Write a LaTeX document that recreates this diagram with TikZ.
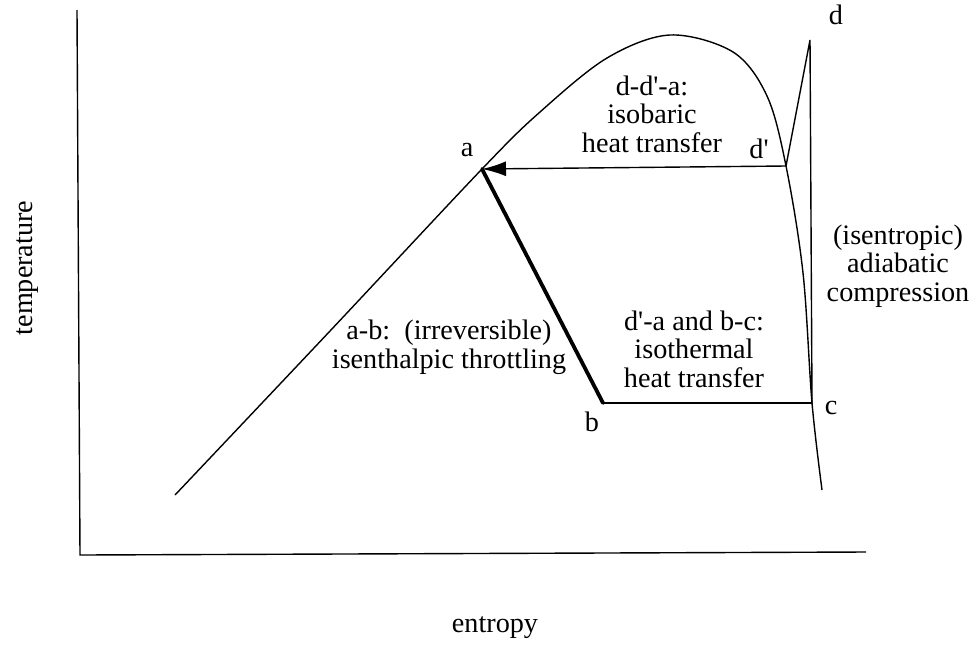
\documentclass[tikz,border=0pt]{standalone}
\usepackage{fontspec}
\setmainfont{Liberation Serif}
\usetikzlibrary{arrows.meta,positioning}

\begin{document}
\begin{tikzpicture}[
x=0.5pt, y=-0.5pt,
every node/.style={font=\fontsize{14.1}{14.3}\selectfont},
curve/.style={line width=0.7pt, black},
note/.style={align=center, inner sep=0pt},
pointlabel/.style={inner sep=0pt},
arrow/.style={-{Latex[length=12pt,width=7.5pt]}, line width=0.7pt},
throttle/.style={line width=1.9pt, line cap=round}
]
\useasboundingbox (0,0) rectangle (972,648);

% axes
\coordinate (origin) at (80,555);
\coordinate (ytop) at (77,10);
\coordinate (xend) at (866,552);
\draw [curve] (ytop) -- (origin) -- (xend);
\node (ylabel) [rotate=90] at (28,268) {temperature};
\node (xlabel) at (495,628) {entropy};

% state points
\coordinate (a) at (482,169);
\coordinate (b) at (603,403);
\coordinate (c) at (812,403);
\coordinate (dp) at (786,166);
\coordinate (d) at (810,40);

% saturation dome
\draw [curve] plot [smooth, tension=0.55] coordinates {
(175,495) (330,331) (a) (540,112) (607,58) (670,35) (733,52) (767,96)
(dp) (803,273) (c) (822,490)};

% cycle
\draw [arrow] (dp) -- (a);
\draw [throttle] (a) -- (b);
\draw [curve] (b) -- (c);
\draw [curve] (c) -- (d) -- (dp);

% point labels
\node (la) [pointlabel] at (467,150) {a};
\node (lb) [pointlabel] at (592,422) {b};
\node (lc) [pointlabel] at (831,408) {c};
\node (ldp) [pointlabel] at (759,149) {d\textquotesingle};
\node (ld) [pointlabel] at (836,15) {d};

% process notes
\node (isobaric) [note] at (652,114) {d-d\textquotesingle-a:\\isobaric\\heat transfer};
\node (throttling) [note] at (449,347) {a-b:\ \ (irreversible)\\isenthalpic throttling};
\node (isothermal) [note] at (694,349) {d\textquotesingle-a and b-c:\\isothermal\\heat transfer};
\node (isentropic) [note] at (898,266) {(isentropic)\\adiabatic\\compression};
\end{tikzpicture}
\end{document}
